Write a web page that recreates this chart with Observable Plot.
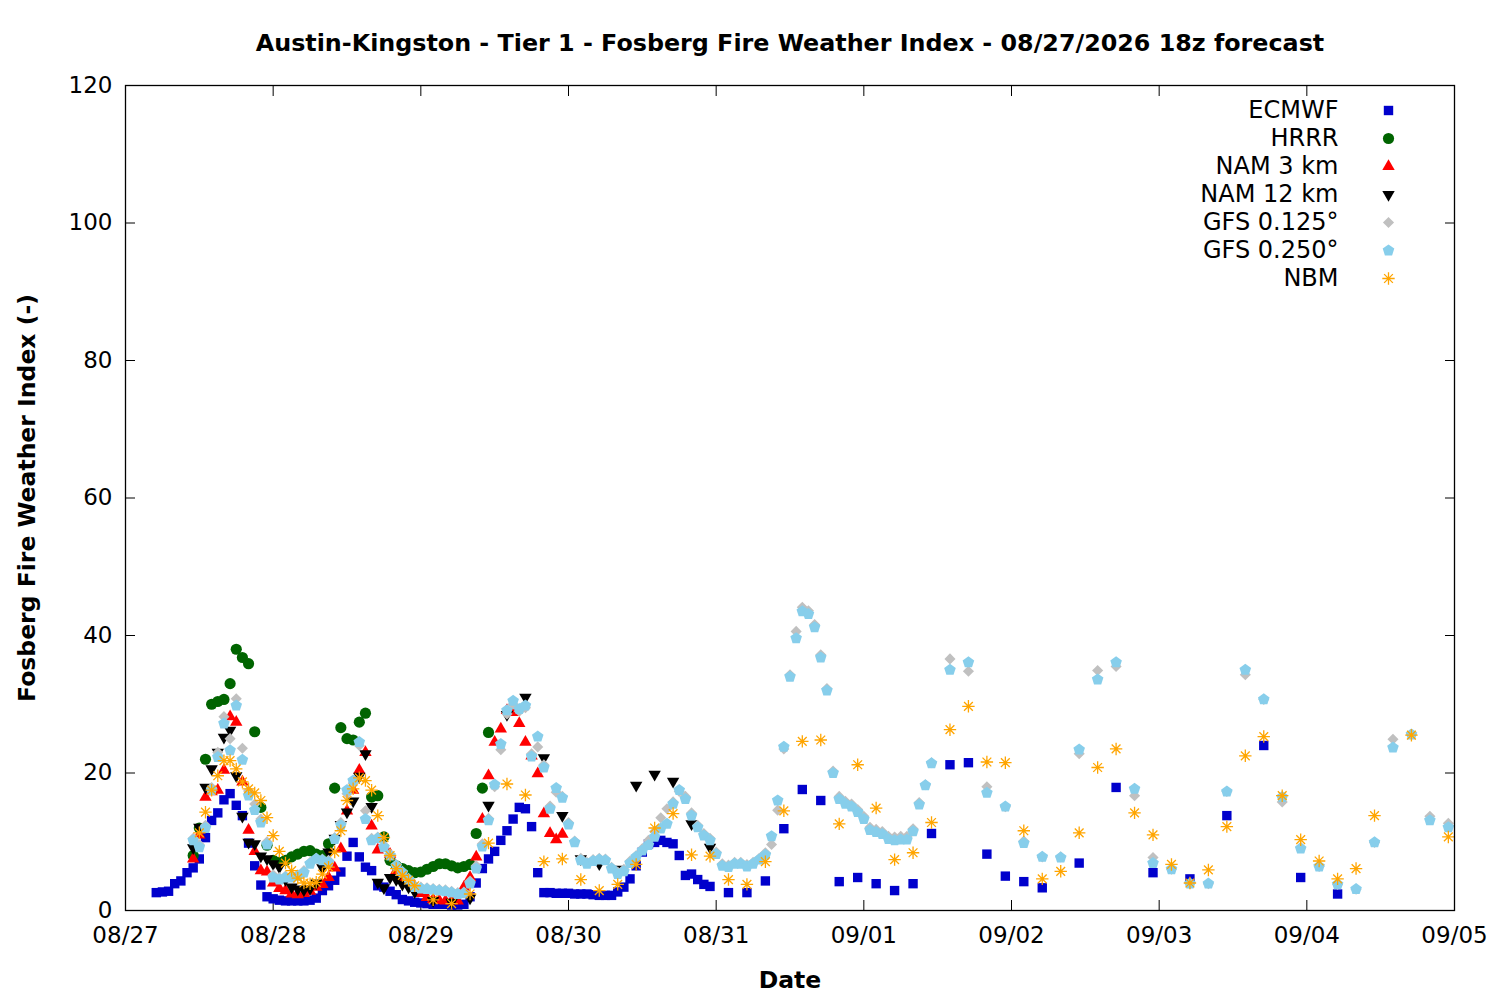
<!DOCTYPE html>
<html><head><meta charset="utf-8">
<script src="https://cdn.jsdelivr.net/npm/d3@7"></script>
<script src="https://cdn.jsdelivr.net/npm/@observablehq/plot@0.6"></script>
<style>body{margin:0;background:#fff}</style>
</head><body><div id="chart"></div>
<script>
// ---------- DATA (hours since 2026-08-27 00Z, Fosberg index values) ----------
const titleText = "Austin-Kingston - Tier 1 - Fosberg Fire Weather Index - 08/27/2026 18z forecast";
const yLabel = "Fosberg Fire Weather Index (-)";
const xLabel = "Date";
const yTicks = [0, 20, 40, 60, 80, 100, 120];
const dayTickLabels = ["08/27","08/28","08/29","08/30","08/31","09/01","09/02","09/03","09/04","09/05"];
const seriesNames = ["ECMWF","HRRR","NAM 3 km","NAM 12 km","GFS 0.125°","GFS 0.250°","NBM"];

const ecmwfHours = [...d3.range(5, 96), ...d3.range(98, 150, 3), ...d3.range(155, 198, 6)];
const ecmwfValues = [
  2.6,2.7,2.8,3.9,4.3,5.5,6.2,7.5,10.6,13.1,14.2,16.1,17.0,15.3,13.8,9.8,6.5,3.7,2.0,1.7,
  1.5,1.4,1.4,1.4,1.4,1.5,1.8,2.9,3.6,4.4,5.6,7.9,9.9,7.8,6.3,5.8,3.6,3.4,2.8,2.3,
  1.6,1.4,1.2,1.1,1.0,0.9,0.9,0.9,0.8,0.8,0.9,2.0,4.0,6.1,7.5,8.6,10.2,11.6,13.3,15.0,
  14.8,12.2,5.5,2.6,2.6,2.5,2.5,2.5,2.4,2.4,2.4,2.3,2.2,2.2,2.2,2.7,3.4,4.6,6.5,8.5,
  9.7,9.9,10.2,9.9,9.7,8.0,5.1,5.3,4.5,3.8,3.5,
  2.6,2.6,4.3,11.9,17.6,16.0,4.2,4.8,3.9,2.9,3.9,11.2,21.2,21.5,8.2,5.0,4.2,3.3,
  6.9,17.9,5.5,4.6,13.8,24.0,4.8,2.4
];

const hrrrHours = d3.range(11, 60);
const hrrrValues = [
  8.0,12.0,22.0,30.0,30.4,30.7,33.0,38.0,36.8,35.9,
  26.0,15.0,9.5,7.3,7.0,7.3,7.8,8.2,8.6,8.7,
  8.2,8.0,9.7,17.8,26.6,25.0,24.8,27.4,28.7,16.5,
  16.7,10.7,7.3,6.5,6.1,5.8,5.5,5.6,6.0,6.4,
  6.8,6.8,6.5,6.2,6.4,6.7,11.2,17.8,25.9
];

const nam3Hours = d3.range(11, 72);
const nam3Values = [
  7.5,11.0,16.5,17.3,17.5,20.4,28.2,27.4,18.7,11.7,
  8.6,5.8,5.6,4.0,3.2,2.9,2.4,2.3,2.5,2.8,
  3.4,3.8,4.8,6.2,9.0,14.5,17.5,20.4,23.0,12.3,
  8.8,9.2,8.2,5.8,4.8,4.1,3.5,2.5,1.9,1.6,
  1.45,1.4,1.4,1.4,3.4,4.8,7.8,13.3,19.6,24.5,
  26.4,29.1,28.8,27.2,24.5,22.5,19.9,14.1,11.2,10.3,11.1
];

const nam12Hours = [...d3.range(11, 48), ...d3.range(50, 96, 3)];
const nam12Values = [
  9.1,12.1,17.9,20.6,23.0,25.2,26.2,19.6,13.7,9.9,
  9.7,7.9,7.5,6.8,6.3,4.5,3.4,3.1,3.0,3.2,
  4.0,6.2,8.5,10.5,12.5,14.3,15.9,19.5,22.8,15.1,
  4.1,3.3,4.8,4.5,3.8,3.4,2.7,
  1.45,1.2,1.8,15.3,28.5,31.0,22.2,13.8,7.5,6.8,6.0,18.2,19.8,18.8,12.6,9.2
];

const gfsHours = [...d3.range(11, 132), ...d3.range(134, 216, 3)];
const gfs125Values = [
  10.5,9.6,12.4,17.9,23.0,28.2,25.0,30.8,23.6,17.4,
  15.5,13.3,10.0,5.2,4.8,5.0,5.0,5.2,5.8,7.0,
  7.6,7.5,7.3,10.6,12.8,17.0,18.5,24.0,14.5,10.5,
  10.7,9.5,8.2,6.7,5.7,4.7,3.6,3.4,3.3,3.2,
  3.1,3.0,2.8,2.6,2.7,4.3,6.5,9.7,13.4,18.0,
  23.4,28.6,30.0,29.0,29.5,22.8,23.8,21.2,15.2,17.2,
  16.6,12.8,10.1,7.6,7.0,7.4,7.6,7.5,6.3,5.6,
  6.0,7.2,8.0,9.0,10.2,11.5,13.5,14.8,15.8,17.3,
  16.6,14.2,12.4,11.2,10.5,8.5,6.8,6.6,7.0,7.0,
  6.7,7.0,7.6,8.4,9.6,14.6,23.5,34.3,40.6,44.1,
  43.6,41.6,37.2,32.3,20.3,16.6,15.9,15.5,14.7,13.7,
  12.1,11.8,11.5,10.8,10.7,10.8,10.8,11.9,15.7,18.3,21.5,
  36.6,34.8,18.0,15.1,10.1,7.8,7.8,22.8,34.9,35.5,16.7,7.7,6.0,3.9,3.9,17.3,34.3,30.7,15.8,9.2,6.4,3.8,3.1,9.9,24.9,25.6,13.7,12.7
];
const gfs250Values = [
  10.2,9.2,12.0,17.5,22.3,27.2,23.3,29.8,21.9,16.7,
  14.6,12.8,9.6,4.8,4.5,4.8,4.8,5.0,5.5,6.8,
  7.5,7.3,7.0,10.4,12.4,17.5,18.9,24.5,13.3,10.2,
  10.5,9.2,8.0,6.5,5.5,4.5,3.4,3.2,3.1,3.0,
  2.9,2.8,2.6,2.4,2.5,3.9,6.1,9.3,13.1,18.3,
  24.2,29.1,30.5,29.3,29.8,22.4,25.3,20.8,14.8,17.8,
  16.4,12.5,9.9,7.3,6.8,7.2,7.4,7.3,6.1,5.3,
  5.7,6.9,7.8,8.7,9.5,10.7,11.9,12.6,15.5,17.5,
  16.2,13.8,12.1,10.9,10.2,8.2,6.5,6.3,6.8,6.8,
  6.4,6.8,7.4,8.1,10.8,16.0,23.8,34.0,39.6,43.5,
  43.1,41.2,36.8,32.0,20.0,16.2,15.5,15.1,14.3,13.3,
  11.7,11.4,11.1,10.4,10.2,10.3,10.3,11.5,15.4,18.2,21.4,
  35.0,36.1,17.1,15.1,9.8,7.8,7.7,23.4,33.6,36.1,17.7,6.9,6.0,3.9,3.9,17.3,35.0,30.7,16.5,9.0,6.4,3.8,3.1,9.9,23.7,25.6,13.1,12.1
];

const nbmHours = [...d3.range(12, 48), ...d3.range(50, 204, 3), 209, 215];
const nbmValues = [
  11.3,14.3,17.5,19.6,21.8,21.8,20.6,18.7,17.7,17.1,
  16.0,13.5,10.9,8.6,6.9,5.8,4.7,4.0,3.9,4.1,
  5.3,6.3,8.5,11.6,16.0,17.7,19.3,18.9,17.5,13.8,
  10.6,8.0,6.1,5.1,4.4,3.6,
  1.55,1.0,2.4,9.8,18.4,16.8,7.1,7.5,4.5,2.9,
  3.8,6.7,12.0,14.1,8.1,7.9,4.5,3.8,7.1,14.5,
  24.6,24.8,12.6,21.2,14.9,7.4,8.4,12.8,26.3,29.7,
  21.6,21.5,11.6,4.6,5.7,11.3,20.8,23.5,14.2,11.0,
  6.7,4.0,5.9,12.2,22.5,25.3,16.7,10.3,7.2,4.6,
  6.1,13.8,
  25.5,10.7
];

// ---------- helpers ----------
const T0 = Date.UTC(2026, 7, 27);
const toDate = h => new Date(T0 + h * 3600e3);
const rows = (hours, values) => hours.map((h, i) => ({t: toDate(h), v: values[i]}));
const dayTicks = dayTickLabels.map((_, i) => toDate(24 * i));

const pentagon = {draw(ctx, size) {
  const R = Math.sqrt(size / 2.378);
  for (let k = 0; k < 5; k++) {
    const a = -Math.PI / 2 + k * 2 * Math.PI / 5;
    const x = R * Math.cos(a), y = R * Math.sin(a);
    k ? ctx.lineTo(x, y) : ctx.moveTo(x, y);
  }
  ctx.closePath();
}};
const triDown = {draw(ctx, size) {
  const y = Math.sqrt(size / (Math.sqrt(3) * 3));
  ctx.moveTo(0, 2 * y);
  ctx.lineTo(-Math.sqrt(3) * y, -y);
  ctx.lineTo(Math.sqrt(3) * y, -y);
  ctx.closePath();
}};
const asterisk8 = {draw(ctx, size) {
  const r = Math.sqrt(size / Math.PI);
  for (let k = 0; k < 4; k++) {
    const a = k * Math.PI / 4, dx = r * Math.cos(a), dy = r * Math.sin(a);
    ctx.moveTo(-dx, -dy); ctx.lineTo(dx, dy);
  }
}};

const styles = [
  {symbol: "square", r: 5.3, fill: "#0000cc"},
  {symbol: "circle", r: 5.6, fill: "#006400"},
  {symbol: "triangle", r: 4.6, fill: "#ff0000"},
  {symbol: triDown, r: 4.6, fill: "#000000"},
  {symbol: "diamond2", r: 5.0, fill: "#c0c0c0"},
  {symbol: pentagon, r: 5.3, fill: "#87ceeb"},
  {symbol: asterisk8, r: 6.2, fill: "none", stroke: "#ffa500", strokeWidth: 1.3}
];
const dataSets = [
  rows(ecmwfHours, ecmwfValues),
  rows(hrrrHours, hrrrValues),
  rows(nam3Hours, nam3Values),
  rows(nam12Hours, nam12Values),
  rows(gfsHours, gfs125Values),
  rows(gfsHours, gfs250Values),
  rows(nbmHours, nbmValues)
];

const seriesMarks = dataSets.map((d, i) => Plot.dot(d, {x: "t", y: "v", ...styles[i]}));
const legendMarks = seriesNames.flatMap((name, i) => [
  Plot.text([name], {frameAnchor: "top-right", dx: -116, dy: 25 + 28 * i, textAnchor: "end", lineAnchor: "middle", fontSize: 24}),
  Plot.dot([name], {frameAnchor: "top-right", dx: -66, dy: 25 + 28 * i, ...styles[i]})
]);

const chart = Plot.plot({
  width: 1500, height: 1000,
  marginLeft: 125, marginRight: 46, marginTop: 85, marginBottom: 90,
  style: {fontFamily: "'DejaVu Sans'", fontSize: "23px", color: "black", background: "white", overflow: "visible"},
  x: {type: "utc", domain: [toDate(0), toDate(216)], label: null},
  y: {domain: [0, 120], label: null},
  marks: [
    Plot.axisY(yTicks, {anchor: "left", tickSize: 0, tickPadding: 13, label: null}),
    Plot.axisY(yTicks, {anchor: "left", tickSize: -10, tickFormat: () => "", label: null}),
    Plot.axisY(yTicks, {anchor: "right", tickSize: -10, tickFormat: () => "", label: null}),
    Plot.axisX(dayTicks, {anchor: "bottom", tickSize: 0, tickPadding: 16, tickFormat: (d, i) => dayTickLabels[i], label: null}),
    Plot.axisX(dayTicks, {anchor: "bottom", tickSize: -10, tickFormat: () => "", label: null}),
    Plot.axisX(dayTicks, {anchor: "top", tickSize: -10, tickFormat: () => "", label: null}),
    ...seriesMarks,
    ...legendMarks,
    Plot.frame({stroke: "black", strokeWidth: 1.3}),
    Plot.text([titleText], {frameAnchor: "top", dy: -42, lineAnchor: "middle", fontWeight: "bold", fontSize: 23.8}),
    Plot.text([xLabel], {frameAnchor: "bottom", dy: 70, lineAnchor: "middle", fontWeight: "bold", fontSize: 23.5}),
    Plot.text([yLabel], {frameAnchor: "left", dx: -98, rotate: -90, textAnchor: "middle", lineAnchor: "middle", fontWeight: "bold", fontSize: 23.5})
  ]
});
document.getElementById("chart").appendChild(chart);
</script></body></html>
